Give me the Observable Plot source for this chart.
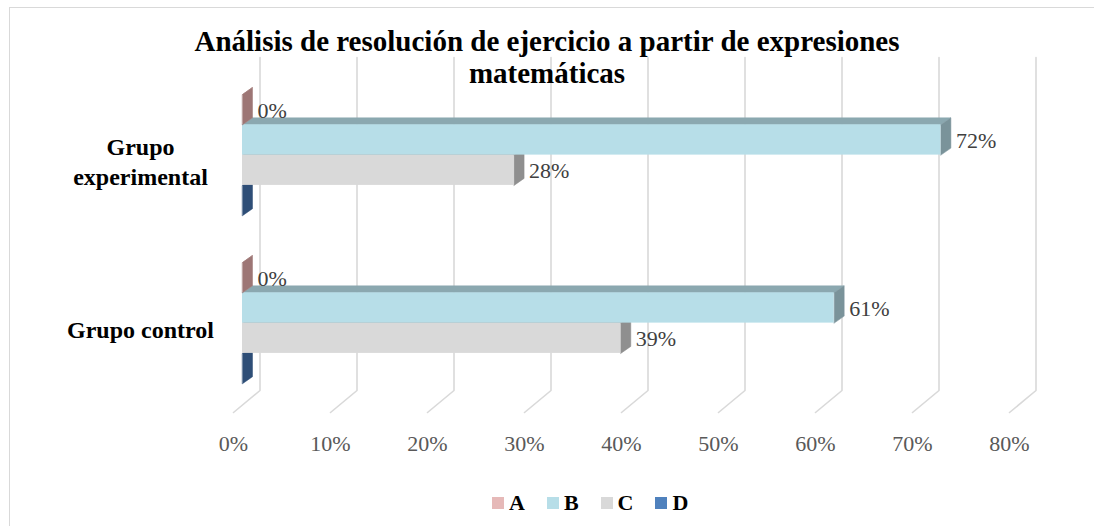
<!DOCTYPE html>
<html>
<head>
<meta charset="utf-8">
<script src="https://cdn.jsdelivr.net/npm/d3@7"></script>
<script src="https://cdn.jsdelivr.net/npm/@observablehq/plot@0.6"></script>
<style>
  html, body { margin: 0; padding: 0; background: #fff; }
  #wrap { position: relative; width: 1094px; height: 526px; overflow: hidden; background: #fff; }
  #frame { position: absolute; left: 9px; top: 7px; width: 1100px; height: 540px; border: 1px solid #d9d9d9; box-sizing: border-box; }
  #chart { position: absolute; left: 0; top: 0; }
  #title { position: absolute; left: 0; top: 25px; width: 1094px; text-align: center;
           font-family: "Liberation Serif", "Times New Roman", serif; font-weight: bold;
           font-size: 29px; line-height: 32px; color: #000; }
  #legend { position: absolute; left: 0; top: 486px; width: 1094px; }
  #legend .lg-swatches-wrap { justify-content: flex-start !important; padding-left: 492px; box-sizing: border-box;
           font-family: "Liberation Serif", serif !important;
           font-size: 22px !important; font-weight: bold !important; color: #000 !important; }
  #legend .lg-swatch { margin-right: 22px !important; }
  #legend .lg-swatch svg { margin-right: 5px !important; }
</style>
</head>
<body>
<div id="wrap">
  <div id="frame"></div>
  <div id="chart"></div>
  <div id="title">Análisis de resolución de ejercicio a partir de expresiones<br>matemáticas</div>
  <div id="legend"></div>
</div>
<script>
// ---- data ----
const groups = ["Grupo experimental", "Grupo control"];
const series = ["A", "B", "C", "D"];
const experimental = [0, 0.72, 0.28, 0];
const control = [0, 0.61, 0.39, 0];
const tickValues = [0, 0.1, 0.2, 0.3, 0.4, 0.5, 0.6, 0.7, 0.8];
const labeledSeries = ["A", "B", "C"];

// ---- styling ----
const frontColors = ["#e6b9b8", "#b7dee8", "#d9d9d9", "#4f81bd"];
const topColors   = ["#b08886", "#8ba8b0", "#a6a6a6", "#3a6396"];
const sideColors  = ["#9d7675", "#7a939a", "#8f8f8f", "#2e4e77"];

// ---- layout helpers (pixels -> scale units) ----
const PXX = 970;      // px per x unit (100%)
const PXY = 30.3;     // px per bar slot
const Y0 = 94;
const py = p => (p - Y0) / PXY;
const pxx = p => p / PXX;
const groupStep = 5.545;
const depthX = pxx(10), depthY = -7 / PXY;
const pct = v => Math.round(v * 100) + "%";

const values = [experimental, control];
const rows = [];
groups.forEach((g, gi) => {
  series.forEach((s, si) => {
    rows.push({group: g, series: s, si, value: values[gi][si], slot: gi * groupStep + si});
  });
});

function topFace(r) {
  return [
    {x: 0, y: r.slot}, {x: r.value, y: r.slot},
    {x: r.value + depthX, y: r.slot + depthY}, {x: depthX, y: r.slot + depthY}
  ].map(p => ({...p, id: r.group + r.series}));
}
function sideFace(r) {
  return [
    {x: r.value, y: r.slot}, {x: r.value + depthX, y: r.slot + depthY},
    {x: r.value + depthX, y: r.slot + 1 + depthY}, {x: r.value, y: r.slot + 1}
  ].map(p => ({...p, id: r.group + r.series}));
}

const gridPts = tickValues.flatMap(t => [
  {t, x: t - pxx(9), y: py(412)},
  {t, x: t + pxx(17.5), y: py(390)},
  {t, x: t + pxx(17.5), y: py(57)}
]);

const barMarks = [];
for (let si = series.length - 1; si >= 0; si--) {
  const rs = rows.filter(r => r.si === si);
  barMarks.push(
    Plot.line(rs.flatMap(topFace), {x: "x", y: "y", z: "id", curve: "linear-closed",
      fill: topColors[si], stroke: topColors[si], strokeWidth: 0.5}),
    Plot.line(rs.flatMap(sideFace), {x: "x", y: "y", z: "id", curve: "linear-closed",
      fill: sideColors[si], stroke: sideColors[si], strokeWidth: 0.5}),
    Plot.rect(rs, {x1: 0, x2: "value", y1: "slot", y2: d => d.slot + 1, fill: frontColors[si]})
  );
}

const labelRows = rows.filter(r => labeledSeries.includes(r.series));

const chart = Plot.plot({
  width: 1094,
  height: 470,
  margin: 0,
  x: {domain: [0, 0.8], range: [242, 1018], axis: null},
  y: {domain: [0, 10], range: [Y0, Y0 + 10 * PXY], axis: null},
  style: {background: "transparent", overflow: "visible", fontFamily: "Liberation Serif, Times New Roman, serif"},
  marks: [
    Plot.line(gridPts, {x: "x", y: "y", z: "t", stroke: "#d9d9d9", strokeWidth: 1.6}),
    ...barMarks,
    Plot.text(labelRows, {x: "value", y: d => d.slot + 0.53, text: d => pct(d.value),
      dx: 15, textAnchor: "start", fontSize: 22, fill: "#404040"}),
    Plot.text(tickValues, {x: d => d, y: py(443), text: pct, dx: -9,
      fontSize: 22, fill: "#595959"}),
    Plot.text(groups, {x: 0, y: (d, i) => i * groupStep + 2 + 0.17,
      text: d => d.replace(" experimental", "\nexperimental"),
      dx: -102, textAnchor: "middle", lineAnchor: "middle", lineHeight: 1.25,
      fontSize: 24, fontWeight: "bold", fill: "#000"})
  ]
});
document.getElementById("chart").appendChild(chart);

const legend = Plot.legend({
  color: {type: "ordinal", domain: series, range: frontColors},
  legend: "swatches",
  swatchSize: 12,
  className: "lg"
});
document.getElementById("legend").appendChild(legend);
</script>
</body>
</html>
